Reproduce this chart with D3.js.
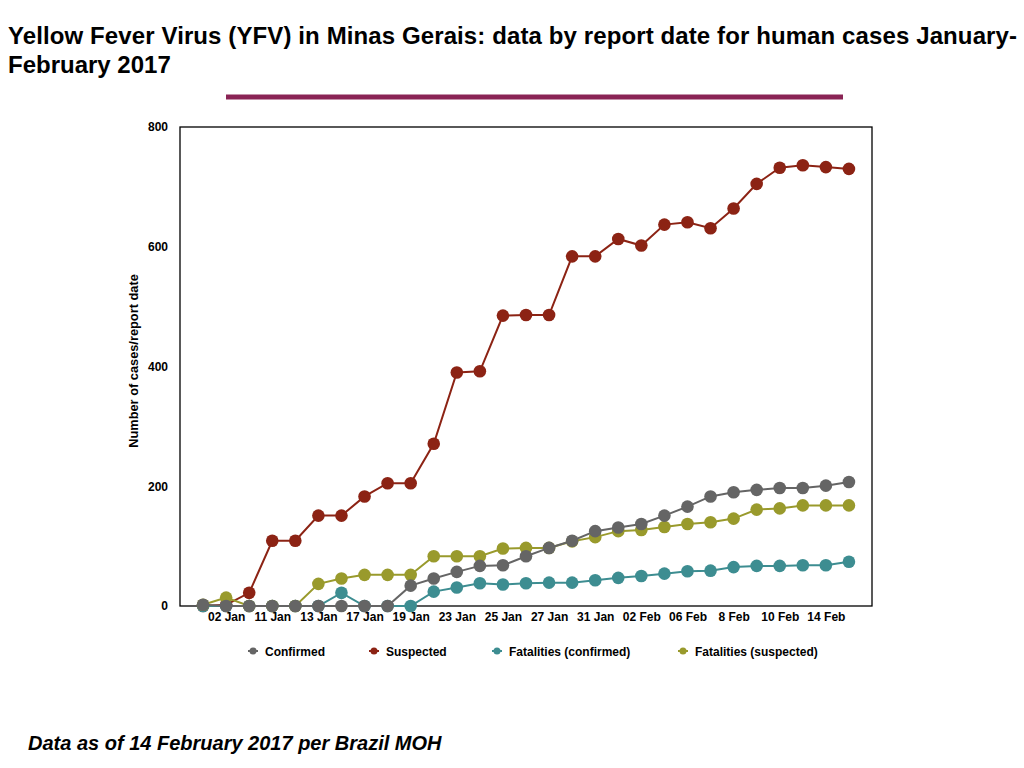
<!DOCTYPE html>
<html>
<head>
<meta charset="utf-8">
<script src="https://cdn.jsdelivr.net/npm/d3@7"></script>
<style>
  body { margin: 0; background: #fff; }
  text { font-family: "Liberation Sans", Arial, sans-serif; }
  .axis text { font-weight: bold; font-size: 12px; fill: #000; }
</style>
</head>
<body>
<script>
// report dates: only every other one is labelled on the axis
var tickLabels = ['02 Jan', '11 Jan', '13 Jan', '17 Jan', '19 Jan', '23 Jan', '25 Jan',
                  '27 Jan', '31 Jan', '02 Feb', '06 Feb', '8 Feb', '10 Feb', '14 Feb'];

var confirmed = [2, 0, 0, 0, 0, 0, 0, 0, 0, 34, 46, 57, 67, 68, 83, 97, 109, 125, 131,
                 137, 151, 166, 183, 190, 194, 197, 197, 201, 207];
var suspected = [0, 2, 22, 109, 109, 151, 151, 183, 205, 205, 271, 390, 392, 485, 486,
                 486, 584, 584, 613, 602, 637, 641, 631, 664, 705, 732, 736, 733, 730];
var fatalConfirmed = [0, 0, 0, 0, 0, 0, 22, 0, 0, 0, 24, 31, 38, 36, 38, 39, 39, 43, 47,
                      50, 54, 58, 59, 65, 67, 67, 68, 68, 74];
var fatalSuspected = [2, 14, 0, 0, 0, 37, 46, 52, 52, 52, 83, 83, 83, 96, 97, 97, 108,
                      115, 125, 127, 132, 137, 140, 146, 161, 163, 168, 168, 168];

var yTicks = [0, 200, 400, 600, 800];

var series = [
  {name: 'Suspected', values: suspected, color: '#8c2314'},
  {name: 'Fatalities (confirmed)', values: fatalConfirmed, color: '#3d8d91'},
  {name: 'Fatalities (suspected)', values: fatalSuspected, color: '#999a2c'},
  {name: 'Confirmed', values: confirmed, color: '#656565'}
];
var legendOrder = ['Confirmed', 'Suspected', 'Fatalities (confirmed)', 'Fatalities (suspected)'];
var legendX = [253, 374, 497, 683];

var W = 1024, H = 768;
var margin = {top: 127, right: 152, bottom: 162, left: 180},
    w = W - margin.left - margin.right,
    h = H - margin.top - margin.bottom;

var svg = d3.select('body').append('svg')
    .attr('width', W)
    .attr('height', H);

// title
var title = svg.append('text')
    .attr('x', 8)
    .attr('y', 44)
    .attr('font-size', '24px')
    .attr('font-weight', 'bold');
title.append('tspan').attr('x', 8).attr('y', 44)
    .attr('textLength', 1009)
    .attr('lengthAdjust', 'spacing')
    .text('Yellow Fever Virus (YFV) in Minas Gerais: data by report date for human cases January-');
title.append('tspan').attr('x', 8).attr('y', 73)
    .text('February 2017');

svg.append('line')
    .attr('x1', 226).attr('x2', 843)
    .attr('y1', 97).attr('y2', 97)
    .attr('stroke', '#8a2455')
    .attr('stroke-width', 5);

var n = suspected.length;
var xScale = d3.scalePoint()
    .domain(d3.range(n))
    .range([0, w])
    .padding(1);

var yScale = d3.scaleLinear()
    .domain([0, 800])
    .range([h, 0]);

var g = svg.append('g')
    .attr('transform', 'translate(' + margin.left + ',' + margin.top + ')');

var xAxis = d3.axisBottom(xScale)
    .tickValues(d3.range(1, n, 2))
    .tickSize(0)
    .tickPadding(6)
    .tickFormat(function (d) { return tickLabels[(d - 1) / 2]; });

var yAxis = d3.axisLeft(yScale)
    .tickValues(yTicks)
    .tickSize(0)
    .tickPadding(12);

g.append('g')
    .attr('class', 'axis')
    .attr('transform', 'translate(0,' + h + ')')
    .call(xAxis)
    .call(function (s) { s.select('.domain').remove(); });

g.append('g')
    .attr('class', 'axis')
    .call(yAxis)
    .call(function (s) { s.select('.domain').remove(); });

g.append('rect')
    .attr('width', w)
    .attr('height', h)
    .attr('fill', 'none')
    .attr('stroke', '#000')
    .attr('stroke-width', 1.3);

svg.append('text')
    .attr('transform', 'translate(138,361) rotate(-90)')
    .attr('text-anchor', 'middle')
    .attr('font-size', '12.8px')
    .attr('font-weight', 'bold')
    .text('Number of cases/report date');

var line = d3.line()
    .x(function (d, i) { return xScale(i); })
    .y(function (d) { return yScale(d); });

series.forEach(function (s) {
  var sg = g.append('g');
  sg.append('path')
      .datum(s.values)
      .attr('d', line)
      .attr('fill', 'none')
      .attr('stroke', s.color)
      .attr('stroke-width', 2);
  sg.selectAll('circle')
      .data(s.values)
      .enter()
      .append('circle')
      .attr('cx', function (d, i) { return xScale(i); })
      .attr('cy', function (d) { return yScale(d); })
      .attr('r', 6.3)
      .attr('fill', s.color);
});

// legend
var legend = svg.append('g').attr('transform', 'translate(0,651)');
legendOrder.forEach(function (name, i) {
  var s = series.filter(function (d) { return d.name === name; })[0];
  var lg = legend.append('g').attr('transform', 'translate(' + legendX[i] + ',0)');
  lg.append('line')
      .attr('x1', -5).attr('x2', 5)
      .attr('stroke', s.color)
      .attr('stroke-width', 2);
  lg.append('circle')
      .attr('r', 3.5)
      .attr('fill', s.color);
  lg.append('text')
      .attr('x', 12)
      .attr('y', 4.5)
      .attr('font-size', '12px')
      .attr('font-weight', 'bold')
      .text(name);
});

svg.append('text')
    .attr('x', 28)
    .attr('y', 750)
    .attr('font-size', '20px')
    .attr('font-weight', 'bold')
    .attr('font-style', 'italic')
    .text('Data as of 14 February 2017 per Brazil MOH');
</script>
</body>
</html>
